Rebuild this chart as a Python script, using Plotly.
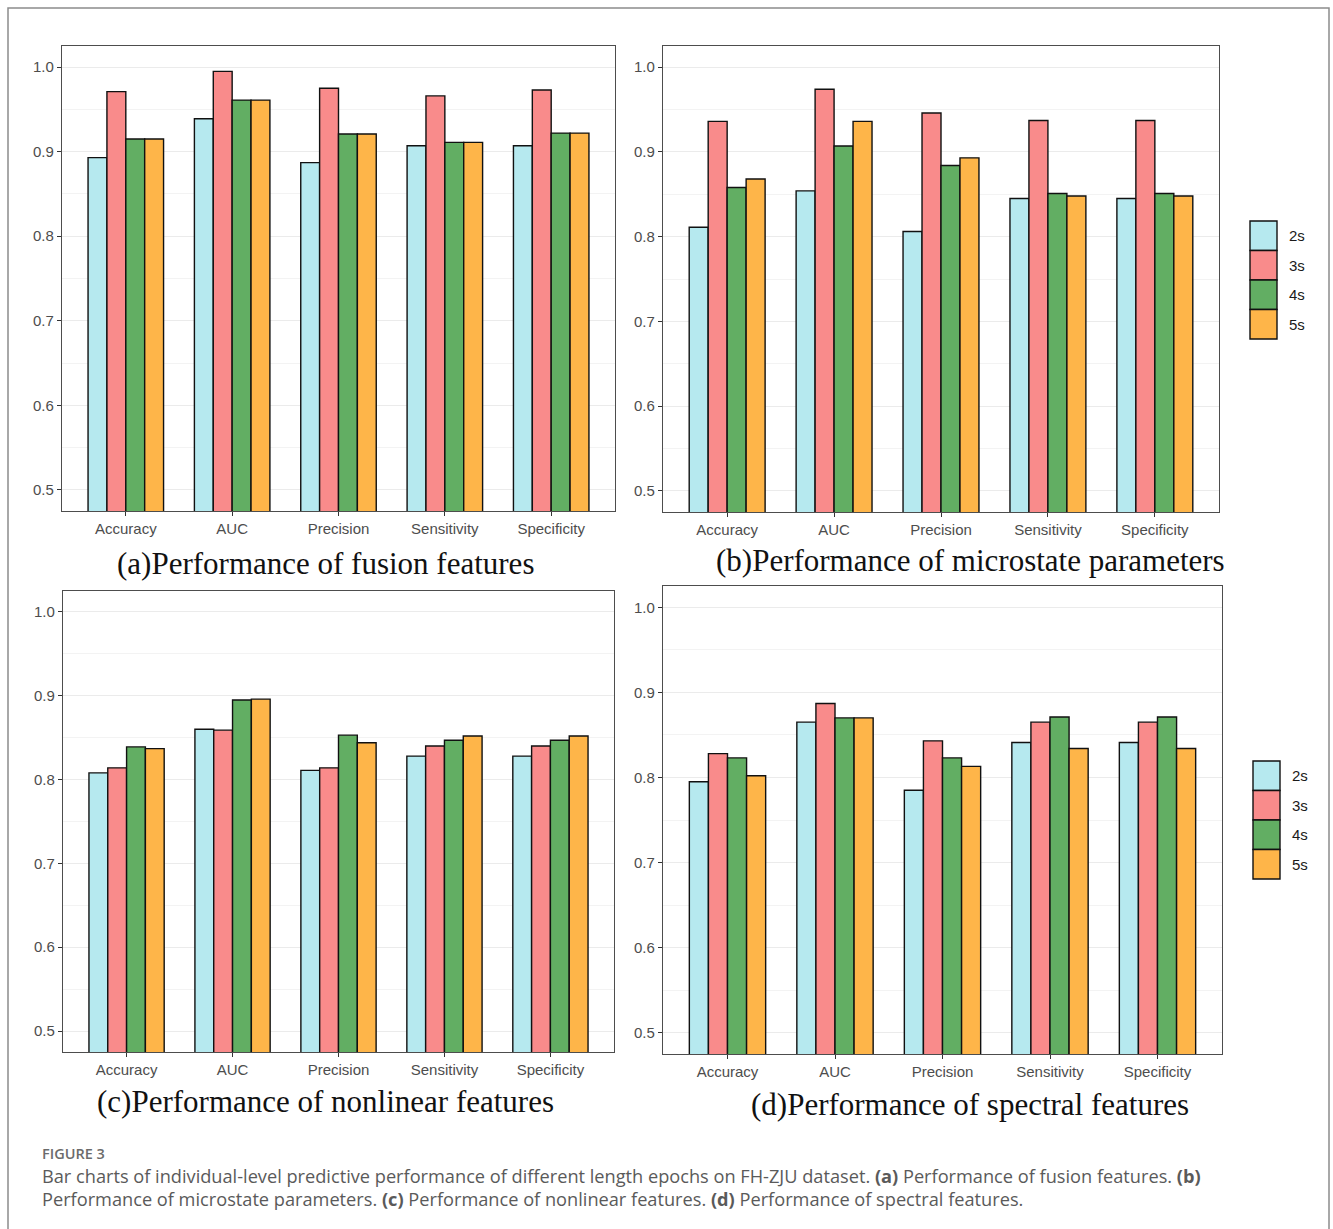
import plotly.graph_objects as go

W, H = 1333, 1229

# ---- data -------------------------------------------------------------
metrics = ["Accuracy", "AUC", "Precision", "Sensitivity", "Specificity"]
epochs = ["2s", "3s", "4s", "5s"]
y_ticks = [0.5, 0.6, 0.7, 0.8, 0.9, 1.0]

# (a) fusion features, one list per epoch length (metric order as above)
fusion_2s = [0.893, 0.939, 0.887, 0.907, 0.907]
fusion_3s = [0.971, 0.995, 0.975, 0.966, 0.973]
fusion_4s = [0.915, 0.961, 0.921, 0.911, 0.922]
fusion_5s = [0.915, 0.961, 0.921, 0.911, 0.922]

# (b) microstate parameters
micro_2s = [0.811, 0.854, 0.806, 0.845, 0.845]
micro_3s = [0.936, 0.974, 0.946, 0.937, 0.937]
micro_4s = [0.858, 0.907, 0.884, 0.851, 0.851]
micro_5s = [0.868, 0.936, 0.893, 0.848, 0.848]

# (c) nonlinear features
nonlin_2s = [0.808, 0.860, 0.811, 0.828, 0.828]
nonlin_3s = [0.814, 0.859, 0.814, 0.840, 0.840]
nonlin_4s = [0.839, 0.895, 0.853, 0.847, 0.847]
nonlin_5s = [0.837, 0.896, 0.844, 0.852, 0.852]

# (d) spectral features
spec_2s = [0.795, 0.865, 0.785, 0.841, 0.841]
spec_3s = [0.828, 0.887, 0.843, 0.865, 0.865]
spec_4s = [0.823, 0.870, 0.823, 0.871, 0.871]
spec_5s = [0.802, 0.870, 0.813, 0.834, 0.834]

captions = [
    "(a)Performance of fusion features",
    "(b)Performance of microstate parameters",
    "(c)Performance of nonlinear features",
    "(d)Performance of spectral features",
]

# ---- styling ----------------------------------------------------------
fill_colors = ["#B6E9EF", "#F98B8B", "#62AE63", "#FEB549"]
SANS = "Liberation Sans, Arial, sans-serif"
SERIF = "Liberation Serif, Times New Roman, serif"
CAP_FONT = "Open Sans, sans-serif"


def px_x(x):
    return x / W


def px_y(y):
    return 1 - y / H


# panel frames in pixels: (left, right, top, bottom)
frames = [(62, 615, 46, 511), (663, 1219, 46, 512),
          (63, 614, 591, 1052), (663, 1222, 586, 1054)]
caption_pos = [(325, 563), (970, 561), (325, 1101), (970, 1104)]
panel_series = [
    [fusion_2s, fusion_3s, fusion_4s, fusion_5s],
    [micro_2s, micro_3s, micro_4s, micro_5s],
    [nonlin_2s, nonlin_3s, nonlin_4s, nonlin_5s],
    [spec_2s, spec_3s, spec_4s, spec_5s],
]

fig = go.Figure()
layout = dict(
    width=W, height=H, margin=dict(l=0, r=0, t=0, b=0),
    paper_bgcolor="white", plot_bgcolor="white",
    barmode="group", bargap=0.29, bargroupgap=0.0,
    showlegend=False,
)

annotations = []
shapes = []

for i, (series, frame) in enumerate(zip(panel_series, frames)):
    k = "" if i == 0 else str(i + 1)
    xa, ya = "x" + k, "y" + k
    for name, vals, col in zip(epochs, series, fill_colors):
        fig.add_trace(go.Bar(
            x=metrics, y=vals, name=name, xaxis=xa, yaxis=ya,
            marker=dict(color=col, line=dict(color="#111111", width=1.4)),
            offsetgroup=name,
        ))
    l, r, t, b = frame
    layout["xaxis" + k] = dict(
        domain=[px_x(l), px_x(r)], anchor=ya,
        showline=True, mirror=True, linecolor="#4D4D4D", linewidth=1.2,
        ticks="outside", ticklen=4, tickcolor="#333333", tickwidth=1.1,
        showgrid=False, zeroline=False,
        tickfont=dict(family=SANS, size=15, color="#4D4D4D"),
        range=[-0.6, 4.6], categoryorder="array", categoryarray=metrics,
    )
    layout["yaxis" + k] = dict(
        domain=[px_y(b), px_y(t)], anchor=xa,
        range=[0.475, 1.025],
        showline=True, mirror=True, linecolor="#4D4D4D", linewidth=1.2,
        ticks="outside", ticklen=4, tickcolor="#333333", tickwidth=1.1,
        tickvals=y_ticks, tickformat=".1f",
        showgrid=True, gridcolor="#EBEBEB", gridwidth=1.2, zeroline=False,
        minor=dict(tickvals=[0.55, 0.65, 0.75, 0.85, 0.95], showgrid=True,
                   gridcolor="#F3F3F3", gridwidth=1, ticks=""),
        tickfont=dict(family=SANS, size=15, color="#4D4D4D"),
    )
    cx, cy = caption_pos[i]
    annotations.append(dict(
        text=captions[i], x=px_x(cx), y=px_y(cy), xref="paper", yref="paper",
        xanchor="center", yanchor="middle", showarrow=False,
        font=dict(family=SERIF, size=31, color="#111111"),
    ))

# legends beside panels (b) and (d)
for lx, ly in [(1250, 221), (1253, 761)]:
    step = 29.5
    for j, (name, col) in enumerate(zip(epochs, fill_colors)):
        y0 = ly + j * step
        shapes.append(dict(
            type="rect", xref="paper", yref="paper",
            x0=px_x(lx), x1=px_x(lx + 27), y0=px_y(y0 + step), y1=px_y(y0),
            fillcolor=col, line=dict(color="#111111", width=1.4),
        ))
        annotations.append(dict(
            text=name, x=px_x(lx + 37), y=px_y(y0 + step / 2),
            xref="paper", yref="paper", xanchor="left", yanchor="middle",
            showarrow=False, font=dict(family=SANS, size=15, color="#1A1A1A"),
        ))

# outer figure border
shapes.append(dict(
    type="rect", xref="paper", yref="paper",
    x0=px_x(8), x1=px_x(1329), y0=-0.02, y1=px_y(8),
    line=dict(color="#8C8C8C", width=1.5), fillcolor="rgba(0,0,0,0)",
    layer="below",
))

# figure caption
annotations.append(dict(
    text="FIGURE 3", x=px_x(40), y=px_y(1153), xref="paper", yref="paper",
    xanchor="left", yanchor="middle", showarrow=False,
    font=dict(family=CAP_FONT, size=14.5, color="#6B6B6B", weight=600),
))
caption_lines = [
    "Bar charts of individual-level predictive performance of different length epochs "
    "on FH-ZJU dataset. <b>(a)</b> Performance of fusion features. <b>(b)</b>",
    "Performance of microstate parameters. <b>(c)</b> Performance of nonlinear features. "
    "<b>(d)</b> Performance of spectral features.",
]
for line, yy in zip(caption_lines, [1176, 1199]):
    annotations.append(dict(
        text=line, x=px_x(40), y=px_y(yy), xref="paper", yref="paper",
        xanchor="left", yanchor="middle", showarrow=False,
        font=dict(family=CAP_FONT, size=18.2, color="#5A5A5A"),
    ))

layout["annotations"] = annotations
layout["shapes"] = shapes
fig.update_layout(**layout)

fig.write_html("out.html")
